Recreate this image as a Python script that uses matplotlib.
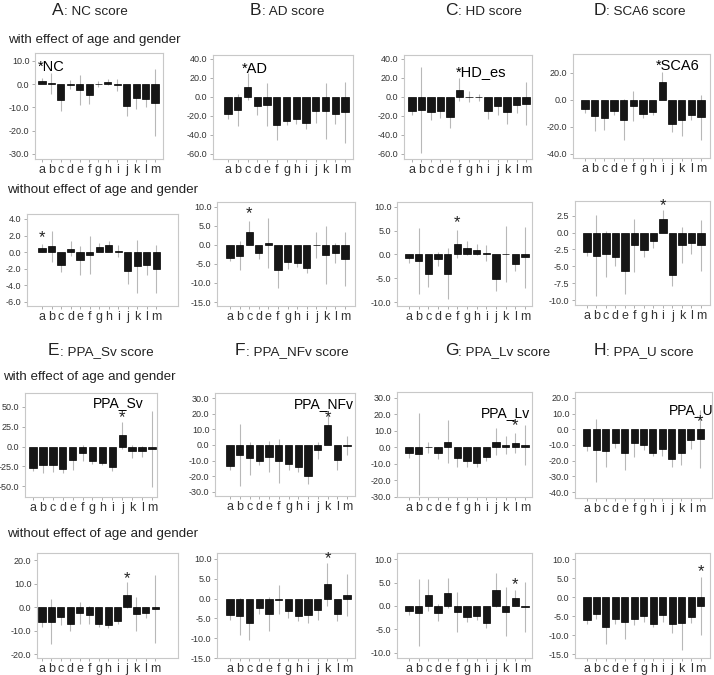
import matplotlib.pyplot as plt
from matplotlib.text import Annotation

plt.rcParams['font.family'] = ['Liberation Sans', 'DejaVu Sans']

groups = list('abcdefghijklm')

# A: NC score
nc_with = [1.5, 0.3, -7.0, -0.3, -2.5, -4.8, 0.1, 1.0, -0.3, -9.2, -6.0, -6.3, -8.0]
nc_with_err = [1.0, 4.5, 4.5, 2.0, 6.5, 3.7, 1.3, 1.2, 2.6, 4.3, 4.5, 3.5, 14.5]
nc_wo = [0.5, 0.7, -1.6, 0.4, -1.0, -0.3, 0.6, 0.9, 0.1, -2.3, -1.7, -1.6, -2.0]
nc_wo_err = [0.5, 1.9, 0.8, 0.9, 1.7, 2.3, 0.5, 0.5, 0.7, 1.5, 3.2, 1.1, 2.9]

# B: AD score
ad_with = [-18, -14, 11, -10, -8, -30, -25, -23, -27, -15, -14.5, -18, -16]
ad_with_err = [5, 17, 14, 9, 23, 15, 5, 5, 7, 12, 29.5, 10, 32]
ad_wo = [-3.4, -2.8, 3.5, -2.0, 0.5, -6.6, -4.6, -4.8, -6.0, 0.0, -2.6, -2.2, -3.8]
ad_wo_err = [0.9, 3.8, 2.7, 1.8, 6.5, 4.7, 1.7, 1.0, 1.5, 3.4, 7.6, 2.6, 7.1]

# C: HD score
hd_with = [-14.5, -13.5, -16, -15, -21, 7.5, 0.3, -0.5, -15, -10, -16, -8.5, -7]
hd_with_err = [4.5, 45, 8, 7, 12, 12, 6, 4, 8, 9, 12, 8.5, 23]
hd_wo = [-0.8, -1.4, -4.0, -0.9, -4.0, 2.2, 1.3, 1.0, 0.3, -5.2, 0.1, -2.1, -0.6]
hd_wo_err = [1.0, 6.9, 2.8, 1.5, 5.3, 3.0, 1.5, 1.1, 1.7, 2.5, 5.8, 1.4, 6.4]

# D: SCA6 score
sca6_with = [-7, -12, -13.5, -8, -14.5, -4.5, -10.5, -9, 13.5, -18, -14.5, -11, -13]
sca6_with_err = [3, 11, 8.5, 3, 15.5, 11, 3, 2.5, 7, 5.5, 12.5, 4, 16.5]
sca6_wo = [-2.8, -3.4, -3.2, -3.6, -5.7, -1.9, -2.6, -1.3, 2.0, -6.3, -1.8, -1.6, -1.9]
sca6_wo_err = [0.6, 6.0, 3.4, 1.3, 3.4, 3.9, 1.0, 1.0, 1.3, 1.6, 2.7, 1.6, 3.8]

# E: PPA_Sv score
sv_with = [-27, -23, -24, -28, -17, -8, -18, -21, -26, 14, -6, -6, -3]
sv_with_err = [4, 10, 8, 5, 13, 10.5, 4, 3, 5, 17, 8, 7, 48.5]
sv_wo = [-6.5, -6.3, -4.3, -7.3, -2.5, -3.5, -7.1, -7.8, -6.0, 5.0, -3.0, -2.5, -0.9]
sv_wo_err = [2.0, 9.6, 3.5, 2.7, 4.7, 3.8, 1.2, 1.2, 1.3, 5.5, 7.3, 2.3, 14.5]

# F: PPA_NFv score
nfv_with = [-13.5, -6.5, -8.5, -10, -7.5, -10, -12, -14, -20, -3.5, 13, -9.5, -0.5]
nfv_with_err = [2.5, 20, 10.5, 3, 10, 14, 4, 3, 5, 5.5, 7, 6.5, 6]
nfv_wo = [-4.1, -4.5, -6.1, -2.5, -3.9, -0.3, -3.1, -4.5, -4.2, -2.8, 3.6, -3.9, 0.8]
nfv_wo_err = [1.2, 4.7, 4.4, 1.5, 4.3, 3.6, 1.9, 1.2, 2.0, 2.5, 5.4, 1.8, 5.3]

# G: PPA_Lv score
lv_with = [-3.5, -4, 0, -3.5, 3.5, -6.5, -8, -9.5, -5.5, 3.5, 1.5, 2.5, 1.5]
lv_with_err = [3, 25, 3.3, 3.5, 13, 5.5, 4, 2.5, 2.5, 8, 5.5, 6, 12]
lv_wo = [-1.0, -1.4, 2.3, -1.4, 2.8, -1.3, -2.3, -2.2, -3.7, 3.4, -1.2, 1.7, -0.2]
lv_wo_err = [0.9, 7.2, 3.4, 1.9, 3.2, 4.3, 1.1, 0.8, 1.1, 3.6, 5.2, 1.7, 5.3]

# H: PPA_U score
u_with = [-10.5, -13.5, -14, -9, -15, -9, -10, -15, -12.5, -19, -15, -7, -6]
u_with_err = [3.5, 20, 10, 3, 11, 8.5, 3, 2, 4.5, 5, 8, 5.5, 18.5]
u_wo = [-6.1, -4.4, -8.0, -5.7, -6.5, -5.7, -5.1, -7.1, -4.7, -7.1, -6.9, -5.3, -2.4]
u_wo_err = [0.9, 1.4, 4.3, 1.3, 4.5, 1.7, 1.4, 0.9, 1.8, 2.3, 7.0, 1.6, 7.6]

W, H = 714, 675
fig = plt.figure(figsize=(W / 100, H / 100), dpi=100)


def draw(box, vals, errs, xlim, ylim, yticks):
    l, t, r, b = box
    ax = fig.add_axes([l / W, 1 - b / H, (r - l) / W, (b - t) / H])
    x = list(range(len(groups)))
    ax.errorbar(x, vals, yerr=errs, fmt='none', ecolor='#b8b8b8',
                elinewidth=0.8, capsize=0, zorder=1)
    ax.bar(x, vals, width=0.75, color='#161616', edgecolor='#000000',
           linewidth=0.5, zorder=2)
    ax.set_xlim(xlim)
    ax.set_ylim(ylim)
    ax.set_xticks(x)
    ax.set_xticklabels(groups, fontsize=9, color='#333333')
    ax.set_yticks(yticks)
    ax.set_yticklabels(['%.1f' % v for v in yticks], fontsize=6.5, color='#333333')
    ax.tick_params(axis='both', length=2.5, width=0.6, color='#a0a0a0')
    ax.tick_params(axis='x', pad=1)
    ax.tick_params(axis='y', pad=1.5)
    for s in ax.spines.values():
        s.set_color('#c8c8c8')
        s.set_linewidth(0.8)
    return ax


def star(ax, x, y):
    ax.text(x, y, '*', ha='center', va='center', fontsize=12, color='#222222')


def title(x, y, letter, rest):
    t = fig.text(x / W, 1 - y / H, letter, fontsize=12.5, color='#222222',
                 ha='left', va='baseline')
    fig.add_artist(Annotation(rest, xy=(1, 0), xycoords=t, fontsize=9.7,
                              color='#222222', ha='left', va='bottom'))


def sub(x, y, s):
    fig.text(x / W, 1 - y / H, s, fontsize=9.6, color='#222222',
             ha='left', va='baseline')


# titles and subtitles
title(52, 15, 'A', ': NC score')
title(250, 15, 'B', ': AD score')
title(445, 15, 'C', ': HD score')
title(594, 15, 'D', ': SCA6 score')
title(48, 355, 'E', ': PPA_Sv score')
title(235, 355, 'F', ': PPA_NFv score')
title(445, 355, 'G', ': PPA_Lv score')
title(594, 355, 'H', ': PPA_U score')
sub(8, 43, 'with effect of age and gender')
sub(7, 193, 'without effect of age and gender')
sub(3, 380, 'with effect of age and gender')
sub(7, 537, 'without effect of age and gender')

# row 1
ax = draw((35, 53, 163, 159), nc_with, nc_with_err, (-0.74, 12.85), (-32.2, 13.4),
          [10, 0, -10, -20, -30])
ax.text(-0.45, 5.5, '*NC', fontsize=10.5, ha='left', va='baseline')
ax = draw((213, 55, 353, 159), ad_with, ad_with_err, (-1.54, 12.82), (-65.3, 44.2),
          [40, 20, 0, -20, -40, -60])
ax.text(1.4, 25.3, '*AD', fontsize=10.5, ha='left', va='baseline')
ax = draw((404, 55, 532, 159), hd_with, hd_with_err, (-0.84, 12.63), (-65.3, 44.2),
          [40, 20, 0, -20, -40, -60])
ax.text(4.65, 22, '*HD_es', fontsize=10.5, ha='left', va='baseline')
ax = draw((573, 54, 710, 158), sca6_with, sca6_with_err, (-1.24, 12.93), (-43, 34),
          [20, 0, -20, -40])
ax.text(7.3, 22, '*SCA6', fontsize=10.5, ha='left', va='baseline')

# row 2
ax = draw((27, 214, 178, 306), nc_wo, nc_wo_err, (-1.58, 14.3), (-6.5, 4.6),
          [4, 2, 0, -2, -4, -6])
star(ax, 0, 1.7)
ax = draw((217, 202, 355, 306), ad_wo, ad_wo_err, (-1.36, 13.04), (-16.05, 11.3),
          [10, 5, 0, -5, -10, -15])
star(ax, 2, 8.2)
ax = draw((397, 202, 532, 306), hd_wo, hd_wo_err, (-1.24, 12.72), (-10.8, 11),
          [10, 5, 0, -5, -10])
star(ax, 5, 6.6)
ax = draw((575, 201, 710, 305), sca6_wo, sca6_wo_err, (-1.26, 12.95), (-10.74, 4.7),
          [2.5, 0, -2.5, -5, -7.5, -10])
star(ax, 8, 4.0)

# row 3
ax = draw((25, 393, 157, 497), sv_with, sv_with_err, (-0.8, 12.5), (-63.9, 67.7),
          [50, 25, 0, -25, -50])
ax.text(8.6, 50, 'PPA_Sv', fontsize=10, ha='center', va='baseline')
star(ax, 9, 36)
ax = draw((215, 393, 355, 496), nfv_with, nfv_with_err, (-1.54, 12.82), (-32.6, 33.2),
          [30, 20, 10, 0, -10, -20, -30])
ax.text(9.6, 23.6, 'PPA_NFv', fontsize=10, ha='center', va='baseline')
star(ax, 10, 17.2)
ax = draw((397, 392, 532, 497), lv_with, lv_with_err, (-1.24, 12.72), (-30, 33.6),
          [30, 20, 10, 0, -10, -20, -30])
ax.text(10.0, 18.5, 'PPA_Lv', fontsize=10, ha='center', va='baseline')
star(ax, 11, 13)
ax = draw((575, 392, 712, 498), u_with, u_with_err, (-1.27, 13.27), (-43.8, 23.8),
          [20, 10, 0, -10, -20, -30, -40])
ax.text(11.1, 9.8, 'PPA_U', fontsize=10, ha='center', va='baseline', clip_on=False)
star(ax, 12, 4.7)

# row 4
ax = draw((37, 553, 178, 658), sv_wo, sv_wo_err, (-0.53, 14.4), (-21.7, 23),
          [20, 10, 0, -10, -20])
star(ax, 9, 12.3)
ax = draw((217, 553, 355, 658), nfv_wo, nfv_wo_err, (-1.33, 12.82), (-15, 11.5),
          [10, 5, 0, -5, -10, -15])
star(ax, 10, 10.0)
ax = draw((397, 553, 532, 658), lv_wo, lv_wo_err, (-1.24, 12.72), (-11.1, 11.3),
          [10, 5, 0, -5, -10])
star(ax, 11, 4.5)
ax = draw((575, 553, 710, 658), u_wo, u_wo_err, (-1.27, 13.0), (-16.05, 11.6),
          [10, 5, 0, -5, -10, -15])
star(ax, 12, 6.6)

fig.savefig('out.png', dpi=100, facecolor='white')
